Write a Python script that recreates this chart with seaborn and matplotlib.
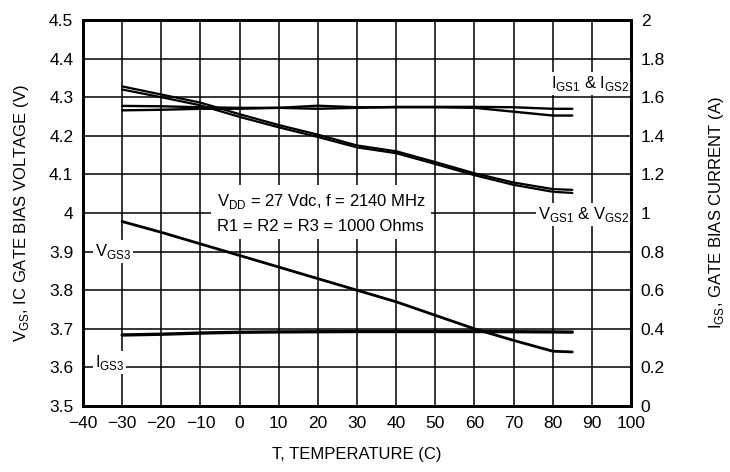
import matplotlib
matplotlib.use("Agg")
import matplotlib.pyplot as plt
import seaborn as sns
import numpy as np

# ========================
# Data
# ========================
temps = [-30, -20, -10, 0, 10, 20, 30, 40, 50, 60, 70, 80, 85]

vgs1 = [4.328, 4.307, 4.286, 4.256, 4.228, 4.203, 4.175, 4.160, 4.132, 4.103, 4.079, 4.062, 4.060]
vgs2 = [4.320, 4.300, 4.279, 4.249, 4.222, 4.197, 4.170, 4.155, 4.127, 4.098, 4.073, 4.055, 4.052]
vgs3 = [3.978, 3.950, 3.920, 3.890, 3.860, 3.830, 3.800, 3.770, 3.735, 3.700, 3.670, 3.642, 3.640]

igs1 = [1.555, 1.553, 1.548, 1.545, 1.545, 1.540, 1.545, 1.550, 1.550, 1.550, 1.548, 1.540, 1.540]
igs2 = [1.532, 1.535, 1.540, 1.540, 1.545, 1.556, 1.548, 1.548, 1.548, 1.545, 1.525, 1.505, 1.505]
igs3 = [0.368, 0.372, 0.378, 0.382, 0.384, 0.385, 0.386, 0.386, 0.386, 0.386, 0.385, 0.384, 0.383]

x_ticks = list(range(-40, 101, 10))
v_ticks = [3.5, 3.6, 3.7, 3.8, 3.9, 4.0, 4.1, 4.2, 4.3, 4.4, 4.5]
v_labels = ["3.5", "3.6", "3.7", "3.8", "3.9", "4", "4.1", "4.2", "4.3", "4.4", "4.5"]
i_ticks = [0, 0.2, 0.4, 0.6, 0.8, 1.0, 1.2, 1.4, 1.6, 1.8, 2.0]
i_labels = ["0", "0.2", "0.4", "0.6", "0.8", "1", "1.2", "1.4", "1.6", "1.8", "2"]

# ========================
# Style
# ========================
sns.set_style("white")
plt.rcParams['font.family'] = ['Liberation Sans', 'DejaVu Sans']
plt.rcParams['mathtext.fontset'] = 'custom'
plt.rcParams['mathtext.rm'] = 'Liberation Sans'
plt.rcParams['axes.unicode_minus'] = True
plt.rcParams['text.color'] = 'black'
plt.rcParams['axes.labelcolor'] = 'black'

fig = plt.figure(figsize=(7.3, 4.72), dpi=100)
ax = fig.add_axes([0.1137, 0.1398, 0.7507, 0.8178])
ax2 = ax.twinx()

sns.lineplot(x=temps, y=vgs1, ax=ax, color="black", lw=1.6)
sns.lineplot(x=temps, y=vgs2, ax=ax, color="black", lw=1.6)
sns.lineplot(x=temps, y=vgs3, ax=ax, color="black", lw=2.0)
sns.lineplot(x=temps, y=igs1, ax=ax2, color="black", lw=1.7)
sns.lineplot(x=temps, y=igs2, ax=ax2, color="black", lw=1.7)
sns.lineplot(x=temps, y=igs3, ax=ax2, color="black", lw=2.4)

ax.set_xlim(-40, 100)
ax.set_ylim(3.5, 4.5)
ax2.set_ylim(0, 2)

ax.set_xticks(x_ticks)
ax.set_yticks(v_ticks)
ax.set_yticklabels(v_labels)
ax2.set_yticks(i_ticks)
ax2.set_yticklabels(i_labels)

ax.grid(True, color="black", lw=1.1)
ax.set_axisbelow(True)
ax2.grid(False)

for a in (ax, ax2):
    for s in a.spines.values():
        s.set_linewidth(2.0)
        s.set_color("black")
    a.tick_params(axis="both", length=0, labelsize=12.5, pad=7, colors="black")

ax.set_xlabel("T, TEMPERATURE (C)", fontsize=12, labelpad=12)
ax.set_ylabel(r"V$_{\mathregular{GS}}$, IC GATE BIAS VOLTAGE (V)", fontsize=12, labelpad=13)
ax2.set_ylabel(r"I$_{\mathregular{GS}}$, GATE BIAS CURRENT (A)", fontsize=12, labelpad=30)

box = dict(facecolor="white", edgecolor="none", pad=1.5)
ax.text(-5.8, 4.0, "V$_{\\mathregular{DD}}$ = 27 Vdc, f = 2140 MHz\nR1 = R2 = R3 = 1000 Ohms",
        fontsize=12, va="center", ha="left", linespacing=1.6,
        bbox=dict(facecolor="white", edgecolor="none", pad=4))
ax.text(99.6, 4.336, r"I$_{\mathregular{GS1}}$ & I$_{\mathregular{GS2}}$",
        fontsize=12, va="center", ha="right", bbox=box)
ax.text(99.6, 3.995, r"V$_{\mathregular{GS1}}$ & V$_{\mathregular{GS2}}$",
        fontsize=12, va="center", ha="right", bbox=box)
ax.text(-37, 3.9, r"V$_{\mathregular{GS3}}$", fontsize=12, va="center", ha="left", bbox=box)
ax.text(-37, 3.612, r"I$_{\mathregular{GS3}}$", fontsize=12, va="center", ha="left", bbox=box)

fig.savefig("out.png", dpi=100)
plt.close(fig)
